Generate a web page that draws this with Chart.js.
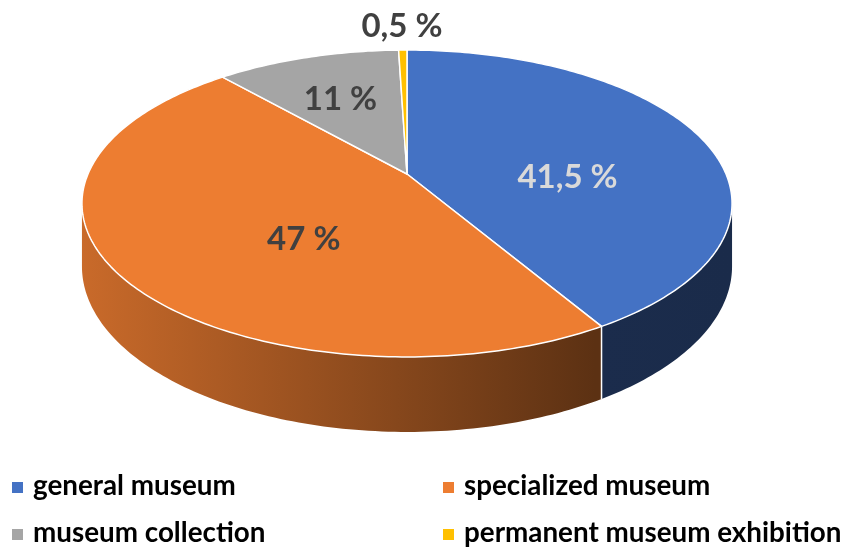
<!DOCTYPE html>
<html>
<head>
<meta charset="utf-8">
<title>Museum types</title>
<script src="https://cdn.jsdelivr.net/npm/chart.js@4.4.1/dist/chart.umd.min.js"></script>
<style>
    html, body {
        margin: 0;
        padding: 0;
        background: #fff;
    }

    body {
        width: 844px;
        height: 549px;
        overflow: hidden;
        position: relative;
        font-family: Lato, "Open Sans", sans-serif;
    }

    #chart {
        position: absolute;
        left: 0;
        top: 0;
    }

    #legend {
        position: absolute;
        left: 12px;
        top: 461px;
        display: grid;
        grid-template-columns: 431px 401px;
        grid-auto-rows: 47px;
    }

    .item {
        position: relative;
        padding-left: 21px;
        font-weight: 700;
        font-size: 27.8px;
        line-height: 47px;
        color: #000;
        white-space: nowrap;
    }

    .item .box {
        position: absolute;
        left: 0;
        top: 21px;
        width: 11px;
        height: 11px;
    }
</style>
</head>
<body>
<canvas id="chart" width="844" height="549"></canvas>
<div id="legend"></div>
<script>
    const categories = ['general museum', 'specialized museum', 'museum collection', 'permanent museum exhibition'];
    const shares = [41.5, 47, 11, 0.5];
    const shareLabels = ['41,5 %', '47 %', '11 %', '0,5 %'];
    const colors = ['#4472C4', '#ED7D31', '#A5A5A5', '#FFC000'];
    const labelColors = ['#D9D9D9', '#404040', '#404040', '#404040'];

    // tilted disc seen in perspective (fitted to the picture)
    const CX = 407, CY = 174, RX = 319, RY = 147.8, PERSP = 0.192, DEPTH = 60.6;
    const LABEL_SIZE = 33;

    function project(angle, f, drop) {
        const u = f * Math.cos(angle), v = f * Math.sin(angle);
        const w = 1 - PERSP * v;
        return { x: CX + RX * u / w, y: CY + RY * v / w + (drop ? DEPTH / w : 0) };
    }

    function shade(hex, k) {
        const n = parseInt(hex.slice(1), 16);
        const r = Math.round(((n >> 16) & 255) * k);
        const g = Math.round(((n >> 8) & 255) * k);
        const b = Math.round((n & 255) * k);
        return `rgb(${r},${g},${b})`;
    }

    function rim(a, b, drop) {
        const steps = Math.max(2, Math.ceil(Math.abs(b - a) * 60));
        const pts = [];
        for (let s = 0; s <= steps; s++) {
            pts.push(project(a + (b - a) * s / steps, 1, drop));
        }
        return pts;
    }

    const pie3d = {
        id: 'pie3d',
        beforeDatasetsDraw(chart) {
            const ctx = chart.ctx;
            const arcs = chart.getDatasetMeta(0).data;
            const lo = Math.asin(PERSP), hi = Math.PI - Math.asin(PERSP);
            const half = RX / Math.sqrt(1 - PERSP * PERSP);

            ctx.save();
            ctx.lineJoin = 'round';

            // side walls, front half only
            arcs.forEach((arc, i) => {
                const a = Math.max(arc.startAngle, lo), b = Math.min(arc.endAngle, hi);
                if (b <= a) return;
                const top = rim(a, b, false);
                const bottom = rim(b, a, true);
                ctx.beginPath();
                top.concat(bottom).forEach((p, k) => k ? ctx.lineTo(p.x, p.y) : ctx.moveTo(p.x, p.y));
                ctx.closePath();
                const g = ctx.createLinearGradient(CX - half, 0, CX + half, 0);
                g.addColorStop(0, shade(colors[i], 0.85));
                g.addColorStop(0.79, shade(colors[i], 0.39));
                g.addColorStop(1, shade(colors[i], 0.38));
                ctx.fillStyle = g;
                ctx.fill();
            });

            // white seams between walls
            ctx.strokeStyle = '#fff';
            ctx.lineWidth = 1.5;
            arcs.forEach(arc => {
                const t = arc.startAngle;
                if (t > lo && t < hi) {
                    const p = project(t, 1, false), q = project(t, 1, true);
                    ctx.beginPath();
                    ctx.moveTo(p.x, p.y);
                    ctx.lineTo(q.x, q.y);
                    ctx.stroke();
                }
            });

            // top faces
            arcs.forEach((arc, i) => {
                const c = project(0, 0, false);
                ctx.beginPath();
                ctx.moveTo(c.x, c.y);
                rim(arc.startAngle, arc.endAngle, false).forEach(p => ctx.lineTo(p.x, p.y));
                ctx.closePath();
                ctx.fillStyle = arc.options.backgroundColor;
                ctx.fill();
                ctx.stroke();
            });

            // value labels
            ctx.font = `bold ${LABEL_SIZE}px Lato`;
            ctx.textAlign = 'center';
            ctx.textBaseline = 'alphabetic';
            arcs.forEach((arc, i) => {
                let x, y;
                if (arc.endAngle - arc.startAngle < 0.1) {
                    // thin slice: label sits outside the rim
                    const mid = (arc.startAngle + arc.endAngle) / 2;
                    const c = project(0, 0, false), p = project(mid, 1, false);
                    const d = Math.hypot(p.x - c.x, p.y - c.y);
                    x = p.x + (p.x - c.x) / d * 25;
                    y = p.y + (p.y - c.y) / d * 25;
                } else {
                    // centroid of the projected slice
                    const pts = [project(0, 0, false)].concat(rim(arc.startAngle, arc.endAngle, false));
                    let A = 0, sx = 0, sy = 0;
                    for (let k = 0; k < pts.length; k++) {
                        const p = pts[k], q = pts[(k + 1) % pts.length];
                        const cr = p.x * q.y - q.x * p.y;
                        A += cr;
                        sx += (p.x + q.x) * cr;
                        sy += (p.y + q.y) * cr;
                    }
                    x = sx / (3 * A);
                    y = sy / (3 * A);
                }
                ctx.fillStyle = labelColors[i];
                ctx.fillText(shareLabels[i], x, y + 0.36 * LABEL_SIZE);
            });

            ctx.restore();
            return false;
        }
    };

    new Chart(document.getElementById('chart').getContext('2d'), {
        type: 'pie',
        data: {
            labels: categories,
            datasets: [{
                data: shares,
                backgroundColor: colors,
                borderColor: '#fff',
                borderWidth: 1.5
            }]
        },
        options: {
            responsive: false,
            animation: false,
            plugins: {
                legend: { display: false },
                tooltip: { enabled: false }
            }
        },
        plugins: [pie3d]
    });

    // legend, two columns like the original
    const legend = document.getElementById('legend');
    categories.forEach((name, i) => {
        const item = document.createElement('div');
        item.className = 'item';
        item.innerHTML = `<span class="box" style="background:${colors[i]}"></span>${name}`;
        legend.appendChild(item);
    });
</script>
</body>
</html>
